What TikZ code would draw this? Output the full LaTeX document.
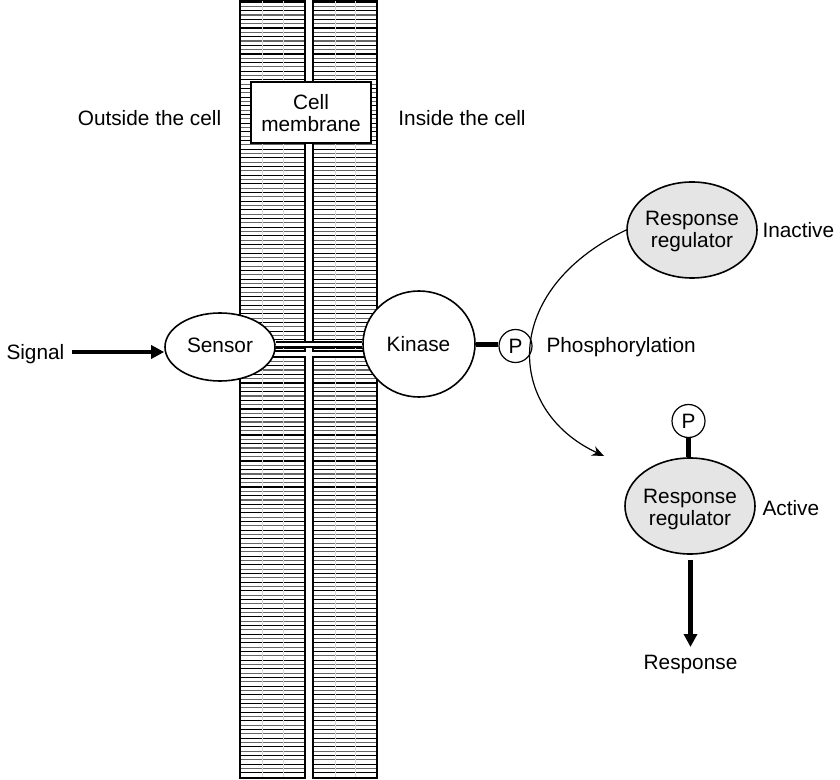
\documentclass[tikz,border=0pt]{standalone}
\usepackage{fontspec}
\setmainfont{Liberation Sans}
\usetikzlibrary{arrows.meta,shapes.geometric}
\begin{document}
\begin{tikzpicture}[x=0.5pt,y=-0.5pt,line width=0.5pt,
  font=\fontsize{10.4}{11}\selectfont,
  lbl/.style={inner sep=0pt,anchor=base west},
  lblc/.style={inner sep=0pt,anchor=base},
  oval/.style={ellipse,draw,line width=0.8pt,inner sep=0pt},
  pcirc/.style={circle,draw,line width=0.6pt,fill=white,inner sep=0pt,minimum size=16.5pt},
  thick bar/.style={line width=2.5pt},
  bigarrow/.style={line width=2pt,-{Triangle[length=6.5pt,width=6.5pt]}}]
\useasboundingbox (0,0) rectangle (840,780);
% membrane
\foreach \xa/\xb in {240/305,313/377}{
  \foreach \ya/\yb in {0/351,357/778}{
    \begin{scope}
      \clip (\xa,\ya) rectangle (\xb,\yb);
      \foreach \k in {0,...,90}{
        \draw[black,line width=0.55pt] (\xa,{\k*8.66+2}) -- (\xb,{\k*8.66+2});
        \draw[black!60,line width=0.55pt] (\xa,{\k*8.66+6.33}) -- (\xb,{\k*8.66+6.33});
      }
      \draw[black!15] ({\xa+22},\ya) -- ({\xa+22},\yb);
      \draw[black!15] ({\xb-22},\ya) -- ({\xb-22},\yb);
    \end{scope}
    \draw[line width=0.7pt] (\xa,\ya) rectangle (\xb,\yb);
  }
}
\node[draw,fill=white,line width=0.7pt,minimum width=60pt,minimum height=30.5pt,inner sep=0pt] (mem) at (311,112.5) {};
\node[lblc] (cell) at (311,110) {Cell};
\node[lblc] (membrane) at (311,132) {membrane};
\node[lblc] (outside) at (149.5,126) {Outside the cell};
\node[lblc] (inside) at (462,126) {Inside the cell};
% sensor / kinase
\node[oval,fill=white,minimum width=55pt,minimum height=34pt] (sensor) at (220,347) {};
\node[oval,fill=white,minimum width=56pt,minimum height=53pt] (kinase) at (419,344) {};
\draw[double,double distance=1.5pt,line width=1pt] (sensor.east|-0,345) -- (kinase.west|-0,345);
\node[lblc] at (220,353) {Sensor};
\node[lblc] at (418.5,352) {Kinase};
% signal
\node[lbl] (signal) at (6,360) {Signal};
\coordinate (sigend) at (72,352);
\draw[bigarrow] (sigend) -- (sensor.west|-sigend);
% P on kinase
\node[pcirc] (p1) at (515.5,346) {};
\node[lblc] at (515.5,353.5) {P};
\draw[thick bar] (kinase.east|-0,345) -- (p1.west|-0,345);
\node[lbl] (phos) at (546,353) {Phosphorylation};
% inactive regulator
\node[oval,fill=black!10,minimum width=65pt,minimum height=48pt] (rr1) at (692,230) {};
\node[lblc] at (692,226) {Response};
\node[lblc] at (692,248) {regulator};
\node[lbl] (inactive) at (762,238) {Inactive};
% curve
\coordinate (cend) at (604,456);
\draw[line width=0.6pt,-{Stealth[length=6pt,width=5pt]}] (rr1.west) .. controls (500,290) and (505,410) .. (cend);
% active regulator
\node[oval,fill=black!10,minimum width=65pt,minimum height=48pt] (rr2) at (690,506) {};
\node[lblc] at (690,503) {Response};
\node[lblc] at (690,525) {regulator};
\node[lbl] (active) at (762,515) {Active};
\node[pcirc] (p2) at (688.5,421) {};
\node[lblc] at (688.5,428.5) {P};
\draw[thick bar] (p2.south) -- (p2.south|-rr2.north);
% response
\node[lblc] (resp) at (690.5,669) {Response};
\coordinate (rstart) at (690.5,560);
\draw[bigarrow,line width=2.5pt] (rstart) -- (690.5,647);
\end{tikzpicture}
\end{document}
